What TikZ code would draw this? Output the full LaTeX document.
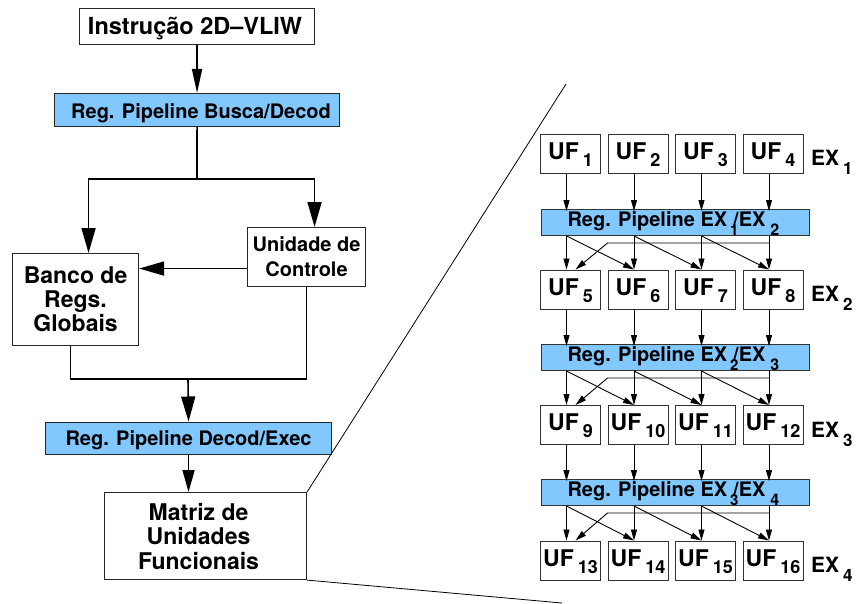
\documentclass[tikz,border=0pt]{standalone}
\usepackage{fontspec}
\setmainfont{TeX Gyre Heros}
\usetikzlibrary{arrows.meta,calc}
\definecolor{regblue}{RGB}{128,200,255}
\newcommand\setfs[2]{\fontsize{#1}{#2}\selectfont\bfseries}
\newcommand\padr{\rule{14pt}{0pt}}
\begin{document}
\begin{tikzpicture}[x=1pt,y=-1pt,
  lbox/.style={draw=black!85, line width=1.1pt, fill=white, inner sep=0pt, anchor=north west},
  lreg/.style={lbox, fill=regblue, font=\setfs{20}{24}},
  uf/.style={draw=black!80, line width=1pt, fill=white, inner sep=0pt, anchor=north west,
    minimum width=60pt, minimum height=39pt, text height=16pt, text depth=5pt, font=\setfs{23}{26}},
  rreg/.style={draw=black!80, line width=1pt, fill=regblue, inner sep=0pt, anchor=north west,
    minimum width=268pt, minimum height=26pt, text height=14pt, text depth=6pt, font=\setfs{20}{24}},
  exlab/.style={inner sep=0pt, anchor=base west, font=\setfs{21}{24}},
  bigarrow/.style={line width=1.6pt, -{Triangle[length=25pt,width=14pt]}},
  plainline/.style={line width=1.6pt},
  sarrow/.style={line width=0.9pt, -{Triangle[length=11pt,width=6pt]}},
  zoomline/.style={line width=0.8pt}]
\useasboundingbox (0,0) rectangle (856,604);

% ---- decode stage (left column) ----
\node[lbox, minimum width=235pt, minimum height=36pt, text height=16pt, text depth=0pt,
  font=\setfs{23.5}{26}] (instr) at (79,8) {Instrução 2D–VLIW\hspace*{4pt}};
\node[lreg, minimum width=285pt, minimum height=33pt, text height=17pt, text depth=0pt]
  (regbd) at (54,93) {\hspace*{8pt}Reg. Pipeline Busca/Decod};
\node[lbox, minimum width=126pt, minimum height=92pt, align=center,
  font=\setfs{23}{24}] (banco) at (12,253) {Banco de\\Regs.\\Globais};
\node[lbox, minimum width=118pt, minimum height=59pt, align=center,
  font=\setfs{20}{25}] (unid) at (247,227) {Unidade de\\Controle};
\node[lreg, minimum width=286pt, minimum height=32pt, text height=15pt, text depth=0pt]
  (regde) at (45,421.5) {Reg. Pipeline Decod/Exec};
\node[lbox, minimum width=202pt, minimum height=87pt, align=center,
  font=\setfs{23}{24.5}] (matriz) at (104,492) {Matriz de\padr\\Unidades\padr\\Funcionais\padr};

\coordinate (split) at (197,179);
\coordinate (merge) at (188,379);
\draw[bigarrow, -{Triangle[length=24pt,width=10pt]}] (instr.south) -- (regbd.north);
\draw[plainline] (regbd.south) -- (split);
\draw[bigarrow] (split) -| ([xshift=13pt]banco.north);
\draw[bigarrow] (split) -| ([xshift=8pt]unid.north);
\coordinate (ctl) at ([yshift=-11.5pt]unid.west);
\draw[bigarrow] (ctl) -- (ctl -| banco.east);
\draw[plainline] ([xshift=-5pt]banco.south) |- (merge -| unid.south) -- (unid.south);
\draw[bigarrow] (merge) -- (regde.north);
\draw[bigarrow, -{Triangle[length=22pt,width=12pt]}] (regde.south) -- (regde.south |- matriz.north);

% ---- zoom of the functional unit matrix ----
\coordinate (zt) at (566,84);
\coordinate (zb) at (562,603);
\draw[zoomline] (matriz.north east) -- (zt);
\draw[zoomline] (matriz.south east) -- (zb);

\foreach \r in {0,1,2,3}{
  \foreach \c in {0,1,2,3}{
    \pgfmathtruncatemacro\n{4*\r+\c+1}
    \node[uf] (uf\n) at ({540+67.5*\c},{134+135.5*\r}) {UF\kern4pt\lower7pt\hbox{\setfs{18}{18}\n}};
    \coordinate (t\n) at ([xshift=-4pt]uf\n.south);
    \coordinate (h\n) at ([xshift=-4pt]uf\n.north);
  }
  \pgfmathtruncatemacro\m{\r+1}
  \node[exlab] (ex\m) at (811,{166+135.5*\r}) {EX\kern4pt\lower9pt\hbox{\setfs{17}{17}\m}};
}

\foreach \r in {0,1,2}{
  \pgfmathtruncatemacro\a{\r+1}
  \pgfmathtruncatemacro\b{\r+2}
  \node[rreg] (reg\a) at (541,{209+135*\r})
    {\makebox[268pt][l]{\hspace{26pt}Reg. Pipeline EX\kern3pt\rlap{\lower9pt\hbox{\setfs{15}{15}\a}}\kern3pt/EX\kern5pt\lower9pt\hbox{\setfs{16}{16}\b}}};
}

\foreach \r in {0,1,2}{
  \pgfmathtruncatemacro\a{\r+1}
  \foreach \c in {0,1,2,3}{
    \pgfmathtruncatemacro\n{4*\r+\c+1}
    \pgfmathtruncatemacro\m{\n+4}
    \draw[sarrow, shorten >=-2pt] (t\n) -- (t\n |- reg\a.north);
    \draw[sarrow] (h\m |- reg\a.south) -- (h\m);
  }
  \foreach \c in {0,1,2}{
    \pgfmathtruncatemacro\m{4*\r+\c+5}
    \pgfmathtruncatemacro\k{\m+1}
    \draw[sarrow] (h\m |- reg\a.south) -- (h\k);
  }
  \pgfmathtruncatemacro\f{4*\r+5}
  \pgfmathtruncatemacro\s{4*\r+6}
  \pgfmathtruncatemacro\l{4*\r+8}
  \coordinate (w\a) at ($(h\l |- reg\a.south)+(0,7)$);
  \draw[sarrow] (w\a) -- (w\a -| uf\s.west) -- ([xshift=5pt]uf\f.north);
}
\end{tikzpicture}
\end{document}
